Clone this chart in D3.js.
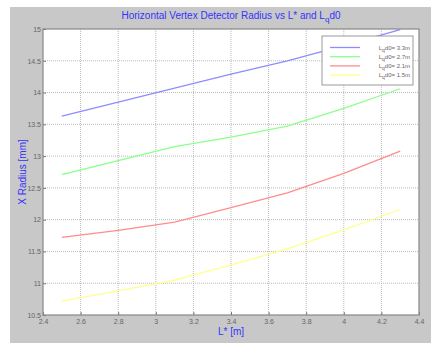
<!DOCTYPE html>
<html>
<head>
<meta charset="utf-8">
<script src="https://cdn.jsdelivr.net/npm/d3@7"></script>
<style>
  body { margin: 0; background: #fff; }
  svg { display: block; font-family: "Liberation Sans", Arial, sans-serif; }
</style>
</head>
<body>
<svg id="chart"></svg>
<script>
// L* values [m]
const lStar = [2.5, 2.8, 3.1, 3.4, 3.7, 4.0, 4.3];
// X radius [mm] for each Lq d0
const r33 = [13.63, 13.85, 14.07, 14.29, 14.50, 14.74, 14.99];
const r27 = [12.71, 12.93, 13.15, 13.30, 13.47, 13.75, 14.06];
const r21 = [11.72, 11.83, 11.96, 12.19, 12.42, 12.73, 13.08];
const r15 = [10.72, 10.88, 11.05, 11.29, 11.54, 11.84, 12.16];
const seriesNames = ['3.3m', '2.7m', '2.1m', '1.5m'];
const xTicks = [2.4, 2.6, 2.8, 3, 3.2, 3.4, 3.6, 3.8, 4, 4.2, 4.4];
const yTicks = [10.5, 11, 11.5, 12, 12.5, 13, 13.5, 14, 14.5, 15];

const series = [
  { name: seriesNames[0], values: r33, color: '#8c8cff' },
  { name: seriesNames[1], values: r27, color: '#8cff8c' },
  { name: seriesNames[2], values: r21, color: '#ff8c8c' },
  { name: seriesNames[3], values: r15, color: '#ffff8c' }
];

const W = 431, H = 343;
const plot = { left: 43, right: 419, top: 29, bottom: 315 };

const svg = d3.select('#chart').attr('width', W).attr('height', H);

svg.append('rect')
  .attr('x', 10).attr('y', 7)
  .attr('width', W - 10).attr('height', H - 7)
  .attr('fill', '#c8c8c8');

svg.append('rect')
  .attr('x', plot.left).attr('y', plot.top)
  .attr('width', plot.right - plot.left).attr('height', plot.bottom - plot.top)
  .attr('fill', '#fff');

const x = d3.scaleLinear().domain([2.4, 4.4]).range([plot.left, plot.right]);
const y = d3.scaleLinear().domain([10.5, 15]).range([plot.bottom, plot.top]);

// grid
const grid = svg.append('g');
grid.selectAll('.vg')
  .data(xTicks.slice(1, -1))
  .enter().append('line')
    .attr('x1', d => x(d)).attr('x2', d => x(d))
    .attr('y1', plot.top).attr('y2', plot.bottom)
    .attr('stroke', '#bbb').attr('stroke-dasharray', '1,1');
grid.selectAll('.hg')
  .data(yTicks.slice(1, -1))
  .enter().append('line')
    .attr('y1', d => y(d)).attr('y2', d => y(d))
    .attr('x1', plot.left).attr('x2', plot.right)
    .attr('stroke', '#bbb').attr('stroke-dasharray', '1,1');

// axes
const xAxis = d3.axisBottom(x).tickValues(xTicks).tickSize(3).tickFormat(d3.format('~g'));
const yAxis = d3.axisLeft(y).tickValues(yTicks).tickSize(3).tickFormat(d3.format('~g'));

svg.append('g')
  .attr('transform', `translate(0, ${plot.bottom})`)
  .call(xAxis)
  .call(g => g.select('.domain').remove())
  .call(g => g.selectAll('line').attr('y1', -3).attr('y2', 0).attr('stroke', '#777'))
  .call(g => g.selectAll('text').attr('y', 4).attr('fill', '#666').attr('font-size', 7));

svg.append('g')
  .attr('transform', `translate(${plot.left}, 0)`)
  .call(yAxis)
  .call(g => g.select('.domain').remove())
  .call(g => g.selectAll('line').attr('x1', 3).attr('x2', 0).attr('stroke', '#777'))
  .call(g => g.selectAll('text').attr('x', -2).attr('fill', '#666').attr('font-size', 7));

// lines
const line = d3.line()
  .x((d, i) => x(lStar[i]))
  .y(d => y(d));

svg.selectAll('.series')
  .data(series)
  .enter().append('path')
    .attr('d', d => line(d.values))
    .attr('fill', 'none')
    .attr('stroke', d => d.color)
    .attr('stroke-width', 1.3);

// frame
svg.append('rect')
  .attr('x', plot.left).attr('y', plot.top)
  .attr('width', plot.right - plot.left).attr('height', plot.bottom - plot.top)
  .attr('fill', 'none').attr('stroke', '#888').attr('stroke-width', 1.2);

// legend
const lg = svg.append('g');
lg.append('rect')
  .attr('x', 322).attr('y', 36).attr('width', 91).attr('height', 49)
  .attr('fill', '#fff').attr('stroke', '#999');
series.forEach((s, i) => {
  const ly = 47.5 + i * 9.2;
  lg.append('line')
    .attr('x1', 330).attr('x2', 360).attr('y1', ly).attr('y2', ly)
    .attr('stroke', s.color).attr('stroke-width', 1.3);
  const t = lg.append('text')
    .attr('x', 410).attr('y', ly + 2)
    .attr('text-anchor', 'end')
    .attr('font-size', 6).attr('fill', '#666');
  t.append('tspan').text('L');
  t.append('tspan').attr('dy', 2).attr('font-size', 5).text('q');
  t.append('tspan').attr('dy', -2).text('d0= ' + s.name);
});

// title and labels
const title = svg.append('text')
  .attr('x', 231).attr('y', 19)
  .attr('text-anchor', 'middle')
  .attr('font-size', 10).attr('fill', '#3333ff');
title.append('tspan').text('Horizontal Vertex Detector Radius vs L* and L');
title.append('tspan').attr('dy', 3).attr('font-size', 8).text('q');
title.append('tspan').attr('dy', -3).text('d0');

svg.append('text')
  .attr('x', 231).attr('y', 335)
  .attr('text-anchor', 'middle')
  .attr('font-size', 10).attr('fill', '#3333ff')
  .text('L* [m]');

svg.append('text')
  .attr('transform', 'translate(26, 172) rotate(-90)')
  .attr('text-anchor', 'middle')
  .attr('font-size', 10).attr('fill', '#3333ff')
  .text('X Radius [mm]');
</script>
</body>
</html>
